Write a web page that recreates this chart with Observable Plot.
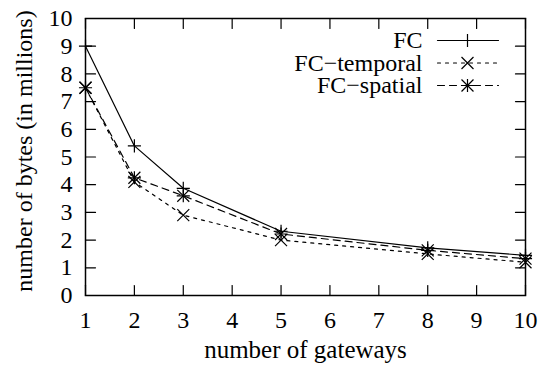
<!DOCTYPE html>
<html><head><meta charset="utf-8">
<script src="https://cdn.jsdelivr.net/npm/d3@7"></script>
<script src="https://cdn.jsdelivr.net/npm/@observablehq/plot@0.6"></script>
<style>body{margin:0;background:#fff}</style>
</head><body><div id="chart"></div>
<script>
const gateways = [1, 2, 3, 5, 8, 10];
const fc = [9.0, 5.4, 3.87, 2.32, 1.72, 1.45];
const fcTemporal = [7.5, 4.1, 2.9, 2.0, 1.5, 1.2];
const fcSpatial = [7.5, 4.25, 3.6, 2.22, 1.63, 1.33];
const seriesNames = ["FC", "FC\u2212temporal", "FC\u2212spatial"];
const xTicks = [1, 2, 3, 4, 5, 6, 7, 8, 9, 10];
const yTicks = [0, 1, 2, 3, 4, 5, 6, 7, 8, 9, 10];
const xLabel = "number of gateways";
const yLabel = "number of bytes (in millions)";

const seriesValues = [fc, fcTemporal, fcSpatial];
const styles = [
  {dash: null, symbols: [["plus", 4.3]]},
  {dash: "3,5", symbols: [["times", 5.5]]},
  {dash: "7,5", symbols: [["plus", 4.3], ["times", 5.5]]}
];
const rows = [];
seriesNames.forEach((s, k) => gateways.forEach((g, i) => rows.push({series: s, k, x: g, y: seriesValues[k][i]})));

const lineShape = {draw(ctx, l) { ctx.moveTo(0, 0); ctx.lineTo(0, -l); }};
const tick = (data, opts) => Plot.vector(data, {length: 10, anchor: "start", shape: lineShape, stroke: "black", strokeWidth: 1.2, ...opts});

const marks = [
  tick(xTicks, {x: d => d, frameAnchor: "bottom", rotate: 0}),
  tick(xTicks, {x: d => d, frameAnchor: "top", rotate: 180}),
  tick(yTicks, {y: d => d, frameAnchor: "left", rotate: 90}),
  tick(yTicks, {y: d => d, frameAnchor: "right", rotate: -90}),
  Plot.axisX(xTicks, {anchor: "bottom", tickSize: 0, tickPadding: 15, label: null}),
  Plot.axisY(yTicks, {anchor: "left", tickSize: 0, tickPadding: 13, label: null}),
  Plot.text([xLabel], {frameAnchor: "bottom", textAnchor: "middle", lineAnchor: "bottom", dy: 62, fontSize: 25, text: d => d}),
  Plot.text([yLabel], {frameAnchor: "left", textAnchor: "middle", lineAnchor: "middle", rotate: -90, dx: -61, dy: -6, text: d => d}),
  Plot.frame({stroke: "black", strokeWidth: 1.5})
];
seriesNames.forEach((s, k) => {
  const data = rows.filter(r => r.k === k);
  const st = styles[k];
  marks.push(Plot.line(data, {x: "x", y: "y", stroke: "black", strokeWidth: 1.2, strokeDasharray: st.dash}));
  st.symbols.forEach(([sym, r]) => marks.push(Plot.dot(data, {x: "x", y: "y", symbol: sym, r, stroke: "black", strokeWidth: 1.2})));
  const dy = 22 + k * 22.5;
  marks.push(Plot.text([s], {frameAnchor: "top-right", textAnchor: "end", lineAnchor: "middle", dx: -103, dy, text: d => d}));
  marks.push(Plot.vector([s], {frameAnchor: "top-right", dx: -88, dy, length: 61, rotate: 90, anchor: "start", shape: lineShape, stroke: "black", strokeWidth: 1.2, strokeDasharray: st.dash}));
  st.symbols.forEach(([sym, r]) => marks.push(Plot.dot([s], {frameAnchor: "top-right", dx: -58, dy, symbol: sym, r, stroke: "black", strokeWidth: 1.2})));
});

const chart = Plot.plot({
  width: 541, height: 365,
  marginLeft: 85, marginRight: 16, marginTop: 18, marginBottom: 70,
  style: {fontFamily: "'Liberation Serif', serif", fontSize: "24px", background: "white", color: "black"},
  x: {domain: [1, 10]},
  y: {domain: [0, 10]},
  marks
});
document.getElementById("chart").append(chart);
</script>
</body></html>
